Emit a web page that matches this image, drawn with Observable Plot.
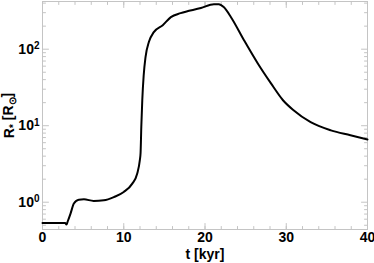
<!DOCTYPE html>
<html><head><meta charset="utf-8">
<script src="https://cdn.jsdelivr.net/npm/d3@7"></script>
<script src="https://cdn.jsdelivr.net/npm/@observablehq/plot@0.6"></script>
<style>body{margin:0;background:#fff}</style>
</head><body><div id="chart"></div>
<script>
const tKyr = [0, 2.6, 2.8, 2.95, 3.1, 3.45, 3.86, 4.47, 5.1, 6.3, 7.55, 8.8, 10.0, 11.05, 11.66, 11.98, 12.07, 12.16, 12.28, 12.45, 12.68, 13.1, 13.7, 14.8, 15.8, 17.0, 19.5, 21.1, 21.7, 22.3, 23.2, 24.8, 26.5, 28.1, 29.6, 30.9, 33.0, 35.5, 37.9, 40];
const radius = [0.537, 0.537, 0.535, 0.51, 0.56, 0.71, 0.96, 1.08, 1.09, 1.04, 1.06, 1.17, 1.36, 1.75, 2.37, 3.54, 4.4, 9.6, 21.5, 45, 79, 125, 167, 206, 262, 296, 345, 387, 387, 355, 262, 131, 65, 36, 21.5, 15.9, 11.1, 8.7, 7.5, 6.6];
const xMajor = [0, 10, 20, 30, 40];
const xMinor = d3.range(0, 41, 2);
const yMajor = [1, 10, 100];
const yMinor = [0.5,0.6,0.7,0.8,0.9,2,3,4,5,6,7,8,9,20,30,40,50,60,70,80,90,200,300,400];
const yExp = ["0", "1", "2"];

const data = tKyr.map((t, i) => ({t, r: radius[i]}));
const gray = "#c4c4c4";
const tickShape = {draw(context, l) { context.moveTo(0, 0); context.lineTo(0, -l); }};
const ticks = (values, channel, frameAnchor, rotate, length) =>
  Plot.vector(values, {[channel]: d => d, frameAnchor, rotate, length, anchor: "start", shape: tickShape, stroke: gray, strokeWidth: 1});

const chart = Plot.plot({
  width: 374, height: 263,
  marginLeft: 42, marginRight: 7, marginTop: 1, marginBottom: 34,
  style: {fontFamily: "'Liberation Sans', Arial, sans-serif", fontSize: "14px", fontWeight: "bold", background: "#fff", color: "#000"},
  x: {domain: [0, 40]},
  y: {type: "log", domain: [0.44, 420]},
  marks: [
    Plot.frame({stroke: gray}),
    ticks(xMajor, "x", "bottom", 0, 6),
    ticks(xMinor, "x", "bottom", 0, 3),
    ticks(xMajor, "x", "top", 180, 6),
    ticks(xMinor, "x", "top", 180, 3),
    ticks(yMajor, "y", "left", 90, 6),
    ticks(yMinor, "y", "left", 90, 3),
    ticks(yMajor, "y", "right", -90, 6),
    ticks(yMinor, "y", "right", -90, 3),
    Plot.axisX(xMajor, {anchor: "bottom", tickSize: 0, tickPadding: 3, stroke: "none", fill: "#000", label: "t [kyr]", labelAnchor: "center", labelArrow: "none", labelOffset: 29}),
    Plot.axisY(yMajor, {anchor: "left", tickSize: 0, tickPadding: 3, stroke: "none", fill: "#000", tickFormat: d => "10" + yExp[yMajor.indexOf(d)], label: "R* [R⊙]", labelAnchor: "center", labelArrow: "none", labelOffset: 38}),
    Plot.line(data, {x: "t", y: "r", stroke: "#000", strokeWidth: 2, curve: "monotone-x"})
  ]
});
document.getElementById("chart").append(chart);

d3.select(chart).selectAll("g[aria-label='y-axis tick label'] text").each(function() {
  const el = d3.select(this);
  const txt = el.text();
  el.text(null);
  el.append("tspan").text(txt.slice(0, 2));
  el.append("tspan").attr("dy", "-0.45em").attr("font-size", "10px").text(txt.slice(2));
});
d3.select(chart).selectAll("g[aria-label='y-axis label'] text").each(function() {
  const el = d3.select(this);
  el.text(null);
  el.append("tspan").text("R");
  el.append("tspan").attr("dy", "0.3em").attr("font-size", "10px").text("*");
  el.append("tspan").attr("dy", "-0.3em").text(" [R");
  el.append("tspan").attr("dy", "0.3em").attr("font-size", "10px").text("⊙");
  el.append("tspan").attr("dy", "-0.3em").text("]");
});
</script></body></html>
